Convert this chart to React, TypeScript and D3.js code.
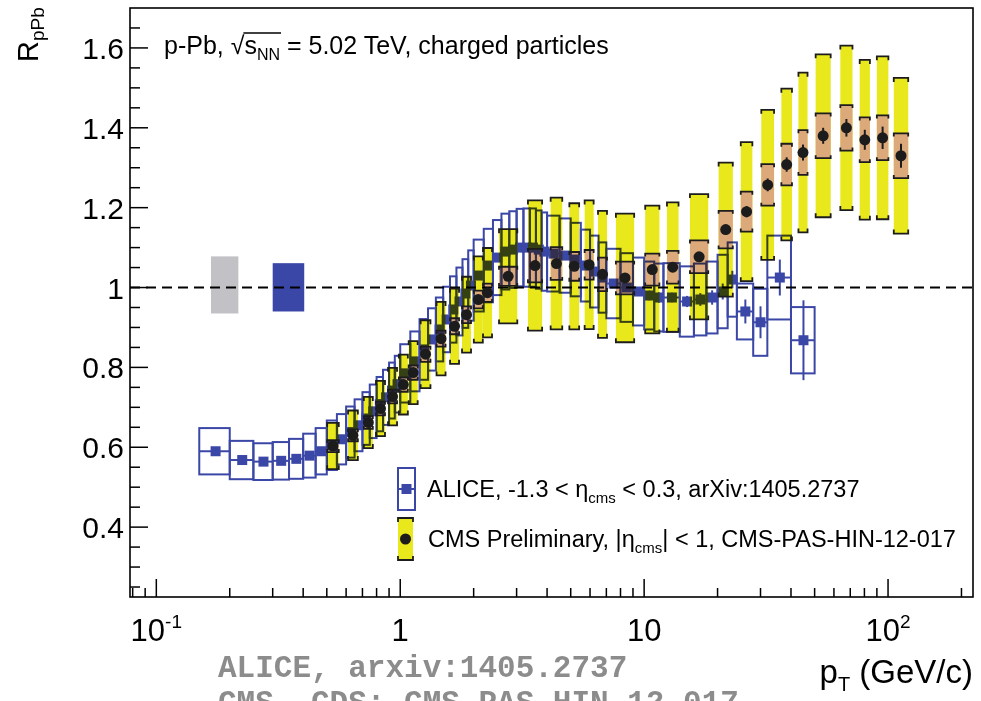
import React, { useRef, useLayoutEffect, useState } from 'react';
import * as d3 from 'd3';

// ---------------- CMS data ----------------
const cmsPt = [0.53, 0.64, 0.74, 0.83, 0.93, 1.03, 1.13, 1.27, 1.47, 1.67, 1.87, 2.09, 2.28, 2.77, 3.57, 4.37, 5.17, 5.95, 6.75, 8.35, 10.8, 13.1, 16.8, 21.6, 26.3, 32.1, 38.4, 44.8, 54.2, 67.5, 80.3, 95, 113];
const cmsBinLo = [0.5, 0.6, 0.7, 0.8, 0.9, 1.0, 1.1, 1.2, 1.4, 1.6, 1.8, 2.0, 2.2, 2.4, 3.2, 4.0, 4.8, 5.6, 6.4, 7.2, 9.6, 12.0, 14.4, 19.2, 24.0, 28.8, 35.2, 41.6, 48.0, 60.8, 73.6, 86.4, 103.6];
const cmsBinHi = [0.6, 0.7, 0.8, 0.9, 1.0, 1.1, 1.2, 1.4, 1.6, 1.8, 2.0, 2.2, 2.4, 3.2, 4.0, 4.8, 5.6, 6.4, 7.2, 9.6, 12.0, 14.4, 19.2, 24.0, 28.8, 35.2, 41.6, 48.0, 60.8, 73.6, 86.4, 103.6, 130];
const cmsR = [0.603, 0.63, 0.662, 0.697, 0.727, 0.757, 0.787, 0.833, 0.872, 0.903, 0.932, 0.97, 0.987, 1.028, 1.055, 1.06, 1.053, 1.057, 1.033, 1.024, 1.045, 1.051, 1.077, 1.145, 1.19, 1.257, 1.308, 1.338, 1.38, 1.40, 1.37, 1.375, 1.33];
const cmsStat = [0.002, 0.002, 0.002, 0.002, 0.002, 0.002, 0.002, 0.002, 0.002, 0.002, 0.002, 0.002, 0.002, 0.003, 0.003, 0.004, 0.005, 0.006, 0.007, 0.006, 0.008, 0.009, 0.01, 0.012, 0.014, 0.016, 0.018, 0.02, 0.02, 0.022, 0.025, 0.028, 0.03];
const cmsSys = [0.058, 0.062, 0.064, 0.069, 0.072, 0.075, 0.079, 0.085, 0.092, 0.094, 0.095, 0.108, 0.112, 0.118, 0.163, 0.165, 0.158, 0.161, 0.159, 0.161, 0.16, 0.162, 0.157, 0.168, 0.174, 0.188, 0.19, 0.2, 0.204, 0.206, 0.2, 0.204, 0.195];
const cmsSysOther = [0.015, 0.015, 0.016, 0.017, 0.017, 0.018, 0.018, 0.019, 0.02, 0.02, 0.021, 0.022, 0.023, 0.024, 0.042, 0.041, 0.036, 0.037, 0.042, 0.041, 0.04, 0.041, 0.041, 0.047, 0.05, 0.052, 0.052, 0.056, 0.056, 0.057, 0.056, 0.056, 0.056];

// ---------------- ALICE data ----------------
const aliceBinLo = [0.15, 0.2, 0.25, 0.3, 0.35, 0.4, 0.45, 0.5, 0.55, 0.6, 0.65, 0.7, 0.75, 0.8, 0.85, 0.9, 0.95, 1.0, 1.1, 1.2, 1.3, 1.4, 1.5, 1.6, 1.7, 1.8, 1.9, 2.0, 2.2, 2.4, 2.6, 2.8, 3.0, 3.2, 3.4, 3.6, 3.8, 4.0, 4.5, 5.0, 5.5, 6.0, 6.5, 7.0, 8.0, 9.0, 10, 11, 12, 14, 16, 18, 20, 22, 24, 28, 32, 40];
const aliceBinHi = [0.2, 0.25, 0.3, 0.35, 0.4, 0.45, 0.5, 0.55, 0.6, 0.65, 0.7, 0.75, 0.8, 0.85, 0.9, 0.95, 1.0, 1.1, 1.2, 1.3, 1.4, 1.5, 1.6, 1.7, 1.8, 1.9, 2.0, 2.2, 2.4, 2.6, 2.8, 3.0, 3.2, 3.4, 3.6, 3.8, 4.0, 4.5, 5.0, 5.5, 6.0, 6.5, 7.0, 8.0, 9.0, 10, 11, 12, 14, 16, 18, 20, 22, 24, 28, 32, 40, 50];
const aliceR = [0.59, 0.568, 0.564, 0.566, 0.571, 0.579, 0.59, 0.605, 0.62, 0.638, 0.655, 0.672, 0.69, 0.708, 0.725, 0.742, 0.758, 0.785, 0.815, 0.845, 0.87, 0.895, 0.92, 0.945, 0.965, 0.985, 1.005, 1.03, 1.055, 1.075, 1.09, 1.095, 1.1, 1.1, 1.1, 1.095, 1.09, 1.085, 1.08, 1.07, 1.055, 1.04, 1.025, 1.01, 1.0, 0.99, 0.98, 0.975, 0.975, 0.965, 0.97, 0.975, 0.99, 1.02, 0.94, 0.913, 1.025, 0.868];
const aliceStat = [0.002, 0.002, 0.002, 0.002, 0.002, 0.002, 0.002, 0.002, 0.002, 0.002, 0.002, 0.002, 0.002, 0.002, 0.002, 0.002, 0.002, 0.002, 0.002, 0.002, 0.002, 0.002, 0.002, 0.002, 0.002, 0.002, 0.002, 0.003, 0.003, 0.003, 0.003, 0.004, 0.004, 0.004, 0.005, 0.005, 0.005, 0.005, 0.006, 0.006, 0.007, 0.008, 0.009, 0.008, 0.01, 0.011, 0.012, 0.013, 0.012, 0.014, 0.016, 0.018, 0.02, 0.022, 0.03, 0.04, 0.045, 0.1];
const aliceSys = [0.058, 0.048, 0.046, 0.047, 0.05, 0.055, 0.058, 0.062, 0.063, 0.064, 0.065, 0.066, 0.067, 0.068, 0.069, 0.07, 0.071, 0.073, 0.075, 0.076, 0.078, 0.08, 0.082, 0.083, 0.085, 0.086, 0.088, 0.09, 0.092, 0.094, 0.095, 0.096, 0.097, 0.098, 0.098, 0.098, 0.098, 0.095, 0.093, 0.092, 0.09, 0.09, 0.088, 0.087, 0.086, 0.085, 0.085, 0.085, 0.086, 0.088, 0.09, 0.09, 0.092, 0.093, 0.07, 0.084, 0.105, 0.083];

// normalization uncertainty boxes at R = 1
const normLabels = ['CMS', 'ALICE'];
const normPtLo = [0.1675, 0.30];
const normPtHi = [0.217, 0.404];
const normUp = [0.078, 0.061];
const normDown = [0.065, 0.060];

// axes
const yMajor = [0.4, 0.6, 0.8, 1, 1.2, 1.4, 1.6];
const yMajorLabels = ['0.4', '0.6', '0.8', '1', '1.2', '1.4', '1.6'];
const xMajor = [0.1, 1, 10, 100];
const xMajorBase = ['10', '1', '10', '10'];
const xMajorExp = ['-1', '', '', '2'];

const BLUE = '#3b47a6';
const YELLOW = '#e8e81c';
const TAN = '#dba97a';
const INK = '#1c1c1c';
const FONT = "'Liberation Sans', Arial, Helvetica, sans-serif";

function bracketPath(x0: number, x1: number, yTop: number, yBot: number, leg: number) {
  return `M${x0},${yTop + leg}L${x0},${yTop}L${x1},${yTop}L${x1},${yTop + leg}` +
    `M${x0},${yBot - leg}L${x0},${yBot}L${x1},${yBot}L${x1},${yBot - leg}`;
}

export default function App() {
  const x = d3.scaleLog().domain([0.078, 223]).range([130, 973]);
  const y = d3.scaleLinear().domain([0.225, 1.7]).range([597, 8]);
  const titleRef = useRef<SVGTextElement>(null);
  const [ov, setOv] = useState<{ x0: number; x1: number } | null>(null);

  useLayoutEffect(() => {
    const t = titleRef.current;
    if (!t) return;
    try {
      const a = t.getExtentOfChar(7);
      const b = t.getExtentOfChar(9);
      setOv({ x0: a.x - 1, x1: b.x + b.width + 1 });
    } catch (e) { /* ignore */ }
  }, []);

  const cmsHalfW = (i: number) => Math.max(0.3 * (x(cmsBinHi[i]) - x(cmsBinLo[i])), 4.5);

  const yMinor: number[] = d3.range(0.25, 1.7, 0.05).map(v => +v.toFixed(2)).filter(v => !yMajor.some(m => Math.abs(m - v) < 1e-6));
  const xMinor: number[] = [];
  for (let d = -2; d <= 2; d++) {
    for (let k = 2; k <= 9; k++) {
      const v = k * Math.pow(10, d);
      if (v > 0.078 && v < 223) xMinor.push(v);
    }
  }

  const L = 130, R = 973, T = 8, B = 597;
  const titleY = 54;

  return (
    <svg width={981} height={701} viewBox="0 0 981 701"
      style={{ position: 'fixed', left: 0, top: 0, background: '#fff' }}
      fontFamily={FONT}>
      <rect x={0} y={0} width={981} height={701} fill="#fff" />

      {/* normalization boxes */}
      {normLabels.map((n, i) => (
        <rect key={n} x={x(normPtLo[i])} width={x(normPtHi[i]) - x(normPtLo[i])}
          y={y(1 + normUp[i])} height={y(1 - normDown[i]) - y(1 + normUp[i])}
          fill={i === 0 ? '#c2c2c6' : BLUE} />
      ))}

      {/* CMS yellow systematic boxes */}
      {cmsPt.map((p, i) => {
        const cx = x(p), hw = cmsHalfW(i);
        return <rect key={'y' + i} x={cx - hw} width={2 * hw} y={y(cmsR[i] + cmsSys[i])}
          height={y(cmsR[i] - cmsSys[i]) - y(cmsR[i] + cmsSys[i])} fill={YELLOW} />;
      })}
      {/* CMS tan boxes */}
      {cmsPt.map((p, i) => {
        const cx = x(p), hw = cmsHalfW(i);
        return <rect key={'t' + i} x={cx - hw} width={2 * hw} y={y(cmsR[i] + cmsSysOther[i])}
          height={y(cmsR[i] - cmsSysOther[i]) - y(cmsR[i] + cmsSysOther[i])} fill={TAN} />;
      })}

      {/* ALICE */}
      <g style={{ mixBlendMode: 'multiply' }}>
        {aliceR.map((r, i) => {
          const x0 = x(aliceBinLo[i]), x1 = x(aliceBinHi[i]);
          return <rect key={'ab' + i} x={x0} width={x1 - x0} y={y(r + aliceSys[i])}
            height={y(r - aliceSys[i]) - y(r + aliceSys[i])} fill="none" stroke={BLUE} strokeWidth={2} />;
        })}
        {aliceR.map((r, i) => {
          const x0 = x(aliceBinLo[i]), x1 = x(aliceBinHi[i]);
          const cx = x((aliceBinLo[i] + aliceBinHi[i]) / 2);
          return (
            <g key={'am' + i}>
              <line x1={x0} x2={x1} y1={y(r)} y2={y(r)} stroke={BLUE} strokeWidth={2} />
              <line x1={cx} x2={cx} y1={y(r + aliceStat[i])} y2={y(r - aliceStat[i])} stroke={BLUE} strokeWidth={2} />
              <rect x={cx - 5} y={y(r) - 5} width={10} height={10} fill={BLUE} />
            </g>
          );
        })}
      </g>

      {/* reference line */}
      <line x1={L} x2={R} y1={y(1)} y2={y(1)} stroke="#000" strokeWidth={2} strokeDasharray="10,6" />

      {/* CMS brackets */}
      {cmsPt.map((p, i) => {
        const cx = x(p), hw = cmsHalfW(i);
        return (
          <g key={'br' + i} fill="none" stroke={INK} strokeWidth={1.8}>
            <path d={bracketPath(cx - hw, cx + hw, y(cmsR[i] + cmsSys[i]), y(cmsR[i] - cmsSys[i]), 4)} />
            <path d={bracketPath(cx - hw, cx + hw, y(cmsR[i] + cmsSysOther[i]), y(cmsR[i] - cmsSysOther[i]), 3)} />
          </g>
        );
      })}
      {/* CMS markers */}
      {cmsPt.map((p, i) => (
        <g key={'cm' + i}>
          <line x1={x(p)} x2={x(p)} y1={y(cmsR[i] + cmsStat[i])} y2={y(cmsR[i] - cmsStat[i])} stroke={INK} strokeWidth={2} />
          <circle cx={x(p)} cy={y(cmsR[i])} r={5.5} fill={INK} />
        </g>
      ))}

      {/* frame */}
      <rect x={L} y={T} width={R - L} height={B - T} fill="none" stroke="#000" strokeWidth={1.6} />

      {/* y ticks */}
      {yMajor.map((v, i) => (
        <g key={'ym' + i}>
          <line x1={L} x2={L + 18} y1={y(v)} y2={y(v)} stroke="#000" strokeWidth={1.5} />
          <text x={124} y={y(v) + 11} fontSize={30} textAnchor="end" fill="#000">{yMajorLabels[i]}</text>
        </g>
      ))}
      {yMinor.map((v, i) => (
        <line key={'yn' + i} x1={L} x2={L + 10} y1={y(v)} y2={y(v)} stroke="#000" strokeWidth={1.5} />
      ))}

      {/* x ticks */}
      {xMajor.map((v, i) => (
        <g key={'xm' + i}>
          <line x1={x(v)} x2={x(v)} y1={B} y2={B - 18} stroke="#000" strokeWidth={1.5} />
          <text x={x(v)} y={641} fontSize={31} textAnchor="middle" fill="#000">
            {xMajorBase[i]}
            {xMajorExp[i] ? <tspan dy={-13} fontSize={19}>{xMajorExp[i]}</tspan> : null}
          </text>
        </g>
      ))}
      {xMinor.map((v, i) => (
        <line key={'xn' + i} x1={x(v)} x2={x(v)} y1={B} y2={B - 9} stroke="#000" strokeWidth={1.5} />
      ))}

      {/* axis titles */}
      <text x={973} y={683} fontSize={33} textAnchor="end" fill="#000">
        p<tspan dy={8} fontSize={20}>T</tspan><tspan dy={-8}> (GeV/c)</tspan>
      </text>
      <text transform="translate(38,62) rotate(-90)" fontSize={29} fill="#000">
        R<tspan dy={6} fontSize={19}>pPb</tspan>
      </text>

      {/* title */}
      <text ref={titleRef} x={164} y={titleY} fontSize={25} fill="#000">
        p-Pb, √s<tspan dy={6} fontSize={16}>NN</tspan><tspan dy={-6}> = 5.02 TeV, charged particles</tspan>
      </text>
      {ov && <line x1={ov.x0} x2={ov.x1} y1={titleY - 21} y2={titleY - 21} stroke="#000" strokeWidth={1.4} />}

      {/* legend */}
      <g>
        <rect x={398} y={468} width={17} height={42} fill="none" stroke={BLUE} strokeWidth={2} />
        <line x1={398} x2={415} y1={489} y2={489} stroke={BLUE} strokeWidth={2} />
        <rect x={401.5} y={484} width={10} height={10} fill={BLUE} />
        <text x={427} y={497} fontSize={23.5} fill="#000">
          ALICE, -1.3 &lt; η<tspan dy={6} fontSize={15}>cms</tspan><tspan dy={-6}> &lt; 0.3, arXiv:1405.2737</tspan>
        </text>

        <rect x={398} y={518} width={15} height={42} fill={YELLOW} />
        <path d={bracketPath(398, 413, 518, 560, 4)} fill="none" stroke={INK} strokeWidth={1.8} />
        <circle cx={405.5} cy={539} r={5.5} fill={INK} />
        <text x={428} y={547} fontSize={23.5} fill="#000">
          CMS Preliminary, |η<tspan dy={6} fontSize={15}>cms</tspan><tspan dy={-6}>| &lt; 1, CMS-PAS-HIN-12-017</tspan>
        </text>
      </g>

      {/* footer */}
      <text x={218} y={677} fontSize={31} fontWeight="bold" fontFamily="'Liberation Mono', 'Courier New', monospace" fill="#8c8c8c">ALICE, arxiv:1405.2737</text>
      <text x={218} y={712} fontSize={31} fontWeight="bold" fontFamily="'Liberation Mono', 'Courier New', monospace" fill="#8c8c8c">CMS, CDS: CMS-PAS-HIN-12-017</text>
    </svg>
  );
}
